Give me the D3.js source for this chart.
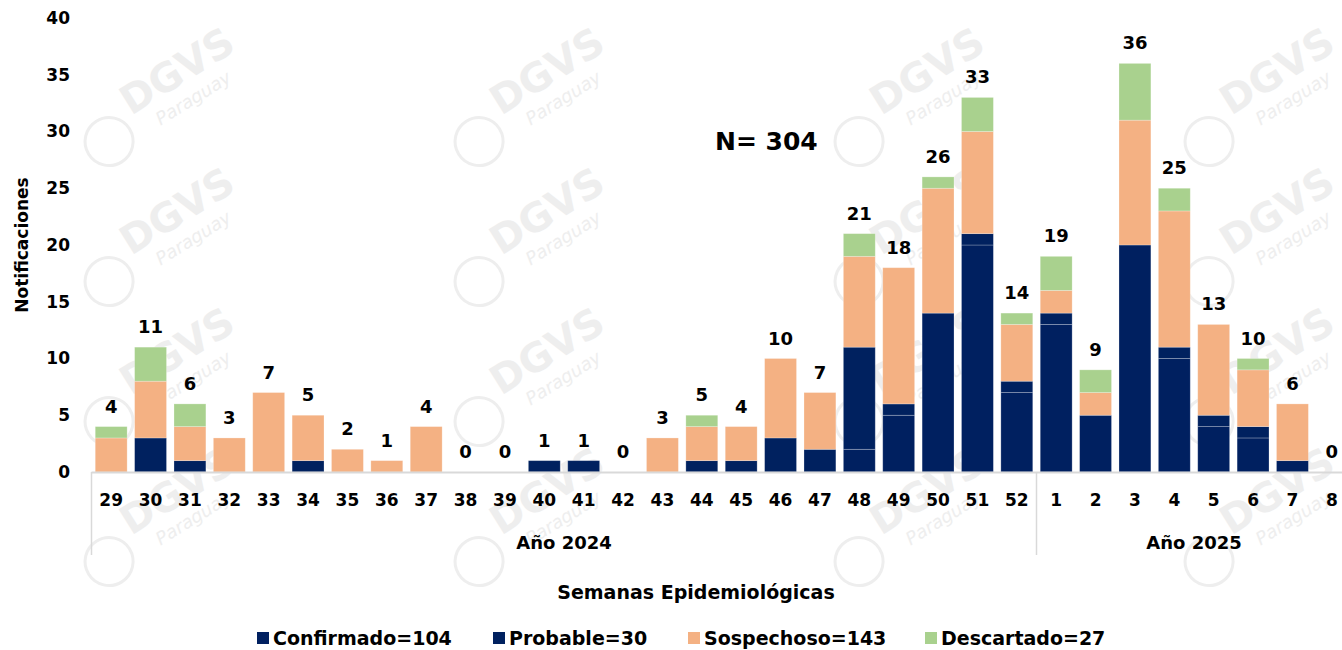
<!DOCTYPE html>
<html>
<head>
<meta charset="utf-8">
<script src="https://cdn.jsdelivr.net/npm/d3@7"></script>
<style>
body { margin: 0; background: #fff; }
svg text { font-family: "DejaVu Sans", sans-serif; font-weight: 700; fill: #000; }
</style>
</head>
<body>
<svg width="1342" height="650"></svg>
<script>
var weeks = ["29","30","31","32","33","34","35","36","37","38","39","40","41","42","43","44","45","46","47","48","49","50","51","52","1","2","3","4","5","6","7","8"];
var years = [{label: "Año 2024", from: "29", to: "52"}, {label: "Año 2025", from: "1", to: "8"}];

var confirmado = [0,0,0,0,0,0,0,0,0,0,0,0,0,0,0,0,0,0,0,2,5,14,20,7,13,5,20,10,4,3,1,0];
var probable   = [0,3,1,0,0,1,0,0,0,0,0,1,1,0,0,1,1,3,2,9,1,0,1,1,1,0,0,1,1,1,0,0];
var sospechoso = [3,5,3,3,7,4,2,1,4,0,0,0,0,0,3,3,3,7,5,8,12,11,9,5,2,2,11,12,8,5,5,0];
var descartado = [1,3,2,0,0,0,0,0,0,0,0,0,0,0,0,1,0,0,0,2,0,1,3,1,3,2,5,2,0,1,0,0];

var seriesNames = ["Confirmado", "Probable", "Sospechoso", "Descartado"];
var seriesColors = ["#002060", "#00215f", "#f4b183", "#a9d18e"];
var yTicks = [0,5,10,15,20,25,30,35,40];

var svg = d3.select("svg"),
	width = +svg.attr("width"),
	height = +svg.attr("height");

var table = weeks.map(function(w, i) {
	return {week: w, Confirmado: confirmado[i], Probable: probable[i], Sospechoso: sospechoso[i], Descartado: descartado[i]};
});
var totals = table.map(function(d) { return d.Confirmado + d.Probable + d.Sospechoso + d.Descartado; });
var sums = seriesNames.map(function(s) { return d3.sum(table, function(d) { return d[s]; }); });

var x = d3.scaleBand().domain(weeks).range([91.5, 1351.5]).paddingInner(0.19).paddingOuter(0.095);
var y = d3.scaleLinear().domain([0, 40]).range([472, 18]);

// watermark (faint)
var wm = svg.append("g").attr("class", "watermark");
[90, 230, 370, 510].forEach(function(wy) {
	[150, 520, 900, 1250].forEach(function(wx) {
		var g = wm.append("g").attr("transform", "translate(" + wx + "," + wy + ") rotate(-32)");
		g.append("circle").attr("cx", -62).attr("cy", 22).attr("r", 24)
			.attr("fill", "none").attr("stroke", "#eeeeee").attr("stroke-width", 3);
		g.append("text").attr("x", -30).attr("y", 12).text("DGVS")
			.style("font-size", "40px").style("fill", "#eeeeee");
		g.append("text").attr("x", -10).attr("y", 36).text("Paraguay")
			.style("font-size", "18px").style("fill", "#eeeeee").style("font-style", "italic").style("font-weight", 400);
	});
});

// y axis labels
svg.append("g").selectAll("text").data(yTicks).enter().append("text")
	.attr("x", 70).attr("y", function(d) { return y(d); })
	.attr("dy", "0.35em").attr("text-anchor", "end")
	.style("font-size", "17px")
	.text(function(d) { return d; });

svg.append("text")
	.attr("transform", "translate(28,245) rotate(-90)")
	.attr("text-anchor", "middle")
	.style("font-size", "17px")
	.text("Notificaciones");

// bars
var stack = d3.stack().keys(seriesNames)(table);
svg.append("g").selectAll("g").data(stack).enter().append("g")
	.attr("fill", function(d, i) { return seriesColors[i]; })
	.selectAll("rect").data(function(d) { return d; }).enter().append("rect")
	.filter(function(d) { return d[1] > d[0]; })
	.attr("x", function(d) { return x(d.data.week); })
	.attr("width", x.bandwidth())
	.attr("y", function(d) { return y(d[1]); })
	.attr("height", function(d) { return y(d[0]) - y(d[1]); })
	.attr("stroke", "rgba(255,255,255,0.3)")
	.attr("stroke-width", 0.8);

// total labels
svg.append("g").selectAll("text").data(weeks).enter().append("text")
	.attr("x", function(d) { return x(d) + x.bandwidth() / 2; })
	.attr("y", function(d, i) { return y(totals[i]) - 14; })
	.attr("text-anchor", "middle")
	.style("font-size", "18px")
	.text(function(d, i) { return totals[i]; });

// x axis
svg.append("line").attr("x1", 91.5).attr("x2", width).attr("y1", 472.5).attr("y2", 472.5)
	.attr("stroke", "#d9d9d9").attr("stroke-width", 2);

svg.append("g").selectAll("text").data(weeks).enter().append("text")
	.attr("x", function(d) { return x(d) + x.bandwidth() / 2; })
	.attr("y", 500).attr("dy", "0.35em")
	.attr("text-anchor", "middle")
	.style("font-size", "17px")
	.text(function(d) { return d; });

// year groups
var sepX = [x("29") - x.step() * x.paddingOuter(), x("1") - x.step() * x.paddingInner() / 2];
sepX.forEach(function(sx) {
	svg.append("line").attr("x1", sx).attr("x2", sx).attr("y1", 472).attr("y2", 555)
		.attr("stroke", "#d9d9d9").attr("stroke-width", 1.5);
});
years.forEach(function(yr) {
	var x0 = x(yr.from) - x.step() * x.paddingInner() / 2,
		x1 = x(yr.to) + x.bandwidth() + x.step() * x.paddingInner() / 2;
	svg.append("text").attr("x", (x0 + x1) / 2).attr("y", 543).attr("dy", "0.35em")
		.attr("text-anchor", "middle").style("font-size", "18px").text(yr.label);
});

svg.append("text").attr("x", 696).attr("y", 592).attr("dy", "0.35em")
	.attr("text-anchor", "middle").style("font-size", "19px").text("Semanas Epidemiológicas");

svg.append("text").attr("x", 715).attr("y", 141).attr("dy", "0.35em")
	.style("font-size", "25px").text("N= " + d3.sum(totals));

// legend
var legendX = [257, 493, 688, 925];
var legend = svg.append("g").selectAll("g").data(seriesNames).enter().append("g")
	.attr("transform", function(d, i) { return "translate(" + legendX[i] + ",638)"; });
legend.append("rect").attr("x", 0).attr("y", -6).attr("width", 12).attr("height", 12)
	.attr("fill", function(d, i) { return seriesColors[i]; });
legend.append("text").attr("x", 16).attr("dy", "0.35em")
	.style("font-size", "19px")
	.text(function(d, i) { return d + "=" + sums[i]; });
</script>
</body>
</html>
